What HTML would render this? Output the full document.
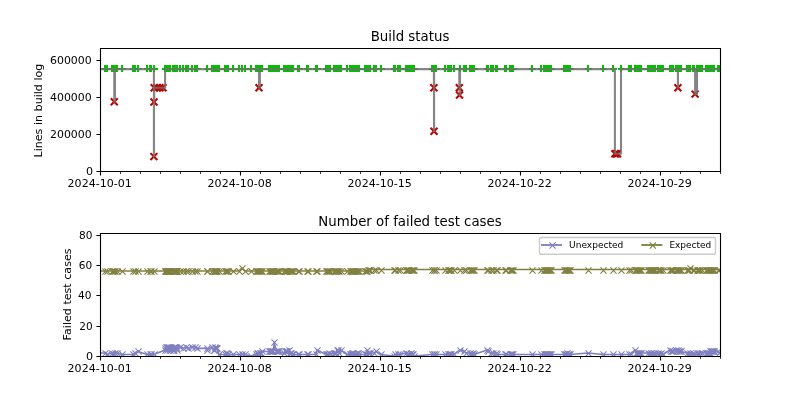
<!DOCTYPE html>
<html lang="en"><head><meta charset="utf-8"><title>Build status</title>
<style>html,body{margin:0;padding:0;background:#fff}body{width:800px;height:400px;overflow:hidden}svg{display:block;will-change:transform}text{font-family:'DejaVu Sans','Liberation Sans',sans-serif;fill:#000}</style></head><body>
<svg width="800" height="400" viewBox="0 0 800 400">
<rect width="800" height="400" fill="#fff"/>
<defs>
<clipPath id="c1"><rect x="100" y="48" width="620" height="123.2"/></clipPath>
<clipPath id="c2"><rect x="100" y="232.8" width="620" height="123.2"/></clipPath>
<path id="mp" d="M0 -3.5V3.5M-3 0.5H4" fill="none"/>
<path id="mx" d="M-3.47 -3.47 L3.47 3.47 M-3.47 3.47 L3.47 -3.47" fill="none"/>
<path id="mb" d="M-3.05 -3.05 L3.05 3.05 M-3.05 3.05 L3.05 -3.05" fill="none"/>
</defs>
<g clip-path="url(#c1)">
<g stroke="#00c000" stroke-width="2.08">
<use href="#mp" x="105" y="68.5"/>
<use href="#mp" x="107" y="68.5"/>
<use href="#mp" x="112" y="68.5"/>
<use href="#mp" x="113" y="68.5"/>
<use href="#mp" x="114" y="68.5"/>
<use href="#mp" x="115" y="68.5"/>
<use href="#mp" x="117" y="68.5"/>
<use href="#mp" x="122" y="68.5"/>
<use href="#mp" x="133" y="68.5"/>
<use href="#mp" x="135" y="68.5"/>
<use href="#mp" x="138" y="68.5"/>
<use href="#mp" x="147" y="68.5"/>
<use href="#mp" x="150" y="68.5"/>
<use href="#mp" x="151" y="68.5"/>
<use href="#mp" x="154" y="68.5"/>
<use href="#mp" x="165" y="68.5"/>
<use href="#mp" x="165" y="68.5"/>
<use href="#mp" x="166" y="68.5"/>
<use href="#mp" x="167" y="68.5"/>
<use href="#mp" x="167" y="68.5"/>
<use href="#mp" x="167" y="68.5"/>
<use href="#mp" x="168" y="68.5"/>
<use href="#mp" x="168" y="68.5"/>
<use href="#mp" x="169" y="68.5"/>
<use href="#mp" x="169" y="68.5"/>
<use href="#mp" x="170" y="68.5"/>
<use href="#mp" x="170" y="68.5"/>
<use href="#mp" x="173" y="68.5"/>
<use href="#mp" x="173" y="68.5"/>
<use href="#mp" x="173" y="68.5"/>
<use href="#mp" x="174" y="68.5"/>
<use href="#mp" x="174" y="68.5"/>
<use href="#mp" x="175" y="68.5"/>
<use href="#mp" x="176" y="68.5"/>
<use href="#mp" x="176" y="68.5"/>
<use href="#mp" x="176" y="68.5"/>
<use href="#mp" x="177" y="68.5"/>
<use href="#mp" x="180" y="68.5"/>
<use href="#mp" x="183" y="68.5"/>
<use href="#mp" x="186" y="68.5"/>
<use href="#mp" x="188" y="68.5"/>
<use href="#mp" x="192" y="68.5"/>
<use href="#mp" x="195" y="68.5"/>
<use href="#mp" x="197" y="68.5"/>
<use href="#mp" x="207" y="68.5"/>
<use href="#mp" x="207" y="68.5"/>
<use href="#mp" x="212" y="68.5"/>
<use href="#mp" x="214" y="68.5"/>
<use href="#mp" x="214" y="68.5"/>
<use href="#mp" x="215" y="68.5"/>
<use href="#mp" x="215" y="68.5"/>
<use href="#mp" x="216" y="68.5"/>
<use href="#mp" x="216" y="68.5"/>
<use href="#mp" x="217" y="68.5"/>
<use href="#mp" x="219" y="68.5"/>
<use href="#mp" x="225" y="68.5"/>
<use href="#mp" x="226" y="68.5"/>
<use href="#mp" x="227" y="68.5"/>
<use href="#mp" x="228" y="68.5"/>
<use href="#mp" x="233" y="68.5"/>
<use href="#mp" x="239" y="68.5"/>
<use href="#mp" x="242" y="68.5"/>
<use href="#mp" x="245" y="68.5"/>
<use href="#mp" x="251" y="68.5"/>
<use href="#mp" x="256" y="68.5"/>
<use href="#mp" x="257" y="68.5"/>
<use href="#mp" x="258" y="68.5"/>
<use href="#mp" x="259" y="68.5"/>
<use href="#mp" x="260" y="68.5"/>
<use href="#mp" x="261" y="68.5"/>
<use href="#mp" x="262" y="68.5"/>
<use href="#mp" x="269" y="68.5"/>
<use href="#mp" x="270" y="68.5"/>
<use href="#mp" x="271" y="68.5"/>
<use href="#mp" x="272" y="68.5"/>
<use href="#mp" x="272" y="68.5"/>
<use href="#mp" x="273" y="68.5"/>
<use href="#mp" x="274" y="68.5"/>
<use href="#mp" x="276" y="68.5"/>
<use href="#mp" x="277" y="68.5"/>
<use href="#mp" x="278" y="68.5"/>
<use href="#mp" x="279" y="68.5"/>
<use href="#mp" x="284" y="68.5"/>
<use href="#mp" x="285" y="68.5"/>
<use href="#mp" x="286" y="68.5"/>
<use href="#mp" x="286" y="68.5"/>
<use href="#mp" x="287" y="68.5"/>
<use href="#mp" x="289" y="68.5"/>
<use href="#mp" x="290" y="68.5"/>
<use href="#mp" x="291" y="68.5"/>
<use href="#mp" x="292" y="68.5"/>
<use href="#mp" x="293" y="68.5"/>
<use href="#mp" x="298" y="68.5"/>
<use href="#mp" x="299" y="68.5"/>
<use href="#mp" x="307" y="68.5"/>
<use href="#mp" x="308" y="68.5"/>
<use href="#mp" x="316" y="68.5"/>
<use href="#mp" x="317" y="68.5"/>
<use href="#mp" x="326" y="68.5"/>
<use href="#mp" x="327" y="68.5"/>
<use href="#mp" x="328" y="68.5"/>
<use href="#mp" x="329" y="68.5"/>
<use href="#mp" x="330" y="68.5"/>
<use href="#mp" x="334" y="68.5"/>
<use href="#mp" x="335" y="68.5"/>
<use href="#mp" x="336" y="68.5"/>
<use href="#mp" x="337" y="68.5"/>
<use href="#mp" x="338" y="68.5"/>
<use href="#mp" x="339" y="68.5"/>
<use href="#mp" x="341" y="68.5"/>
<use href="#mp" x="347" y="68.5"/>
<use href="#mp" x="350" y="68.5"/>
<use href="#mp" x="351" y="68.5"/>
<use href="#mp" x="352" y="68.5"/>
<use href="#mp" x="352" y="68.5"/>
<use href="#mp" x="353" y="68.5"/>
<use href="#mp" x="354" y="68.5"/>
<use href="#mp" x="355" y="68.5"/>
<use href="#mp" x="356" y="68.5"/>
<use href="#mp" x="357" y="68.5"/>
<use href="#mp" x="358" y="68.5"/>
<use href="#mp" x="359" y="68.5"/>
<use href="#mp" x="365" y="68.5"/>
<use href="#mp" x="366" y="68.5"/>
<use href="#mp" x="367" y="68.5"/>
<use href="#mp" x="368" y="68.5"/>
<use href="#mp" x="369" y="68.5"/>
<use href="#mp" x="370" y="68.5"/>
<use href="#mp" x="374" y="68.5"/>
<use href="#mp" x="376" y="68.5"/>
<use href="#mp" x="381" y="68.5"/>
<use href="#mp" x="394" y="68.5"/>
<use href="#mp" x="395" y="68.5"/>
<use href="#mp" x="398" y="68.5"/>
<use href="#mp" x="400" y="68.5"/>
<use href="#mp" x="406" y="68.5"/>
<use href="#mp" x="407" y="68.5"/>
<use href="#mp" x="408" y="68.5"/>
<use href="#mp" x="409" y="68.5"/>
<use href="#mp" x="411" y="68.5"/>
<use href="#mp" x="412" y="68.5"/>
<use href="#mp" x="413" y="68.5"/>
<use href="#mp" x="414" y="68.5"/>
<use href="#mp" x="432" y="68.5"/>
<use href="#mp" x="434" y="68.5"/>
<use href="#mp" x="434" y="68.5"/>
<use href="#mp" x="436" y="68.5"/>
<use href="#mp" x="445" y="68.5"/>
<use href="#mp" x="448" y="68.5"/>
<use href="#mp" x="449" y="68.5"/>
<use href="#mp" x="450" y="68.5"/>
<use href="#mp" x="451" y="68.5"/>
<use href="#mp" x="454" y="68.5"/>
<use href="#mp" x="460" y="68.5"/>
<use href="#mp" x="464" y="68.5"/>
<use href="#mp" x="466" y="68.5"/>
<use href="#mp" x="470" y="68.5"/>
<use href="#mp" x="471" y="68.5"/>
<use href="#mp" x="472" y="68.5"/>
<use href="#mp" x="473" y="68.5"/>
<use href="#mp" x="474" y="68.5"/>
<use href="#mp" x="487" y="68.5"/>
<use href="#mp" x="488" y="68.5"/>
<use href="#mp" x="491" y="68.5"/>
<use href="#mp" x="493" y="68.5"/>
<use href="#mp" x="496" y="68.5"/>
<use href="#mp" x="497" y="68.5"/>
<use href="#mp" x="505" y="68.5"/>
<use href="#mp" x="506" y="68.5"/>
<use href="#mp" x="510" y="68.5"/>
<use href="#mp" x="511" y="68.5"/>
<use href="#mp" x="512" y="68.5"/>
<use href="#mp" x="513" y="68.5"/>
<use href="#mp" x="532" y="68.5"/>
<use href="#mp" x="541" y="68.5"/>
<use href="#mp" x="544" y="68.5"/>
<use href="#mp" x="545" y="68.5"/>
<use href="#mp" x="546" y="68.5"/>
<use href="#mp" x="547" y="68.5"/>
<use href="#mp" x="547" y="68.5"/>
<use href="#mp" x="548" y="68.5"/>
<use href="#mp" x="549" y="68.5"/>
<use href="#mp" x="550" y="68.5"/>
<use href="#mp" x="551" y="68.5"/>
<use href="#mp" x="564" y="68.5"/>
<use href="#mp" x="565" y="68.5"/>
<use href="#mp" x="566" y="68.5"/>
<use href="#mp" x="567" y="68.5"/>
<use href="#mp" x="568" y="68.5"/>
<use href="#mp" x="569" y="68.5"/>
<use href="#mp" x="570" y="68.5"/>
<use href="#mp" x="588" y="68.5"/>
<use href="#mp" x="603" y="68.5"/>
<use href="#mp" x="613" y="68.5"/>
<use href="#mp" x="621" y="68.5"/>
<use href="#mp" x="629" y="68.5"/>
<use href="#mp" x="631" y="68.5"/>
<use href="#mp" x="635" y="68.5"/>
<use href="#mp" x="636" y="68.5"/>
<use href="#mp" x="637" y="68.5"/>
<use href="#mp" x="638" y="68.5"/>
<use href="#mp" x="639" y="68.5"/>
<use href="#mp" x="640" y="68.5"/>
<use href="#mp" x="641" y="68.5"/>
<use href="#mp" x="648" y="68.5"/>
<use href="#mp" x="649" y="68.5"/>
<use href="#mp" x="650" y="68.5"/>
<use href="#mp" x="651" y="68.5"/>
<use href="#mp" x="651" y="68.5"/>
<use href="#mp" x="652" y="68.5"/>
<use href="#mp" x="653" y="68.5"/>
<use href="#mp" x="654" y="68.5"/>
<use href="#mp" x="655" y="68.5"/>
<use href="#mp" x="658" y="68.5"/>
<use href="#mp" x="659" y="68.5"/>
<use href="#mp" x="660" y="68.5"/>
<use href="#mp" x="661" y="68.5"/>
<use href="#mp" x="663" y="68.5"/>
<use href="#mp" x="670" y="68.5"/>
<use href="#mp" x="671" y="68.5"/>
<use href="#mp" x="672" y="68.5"/>
<use href="#mp" x="673" y="68.5"/>
<use href="#mp" x="676" y="68.5"/>
<use href="#mp" x="677" y="68.5"/>
<use href="#mp" x="678" y="68.5"/>
<use href="#mp" x="679" y="68.5"/>
<use href="#mp" x="680" y="68.5"/>
<use href="#mp" x="681" y="68.5"/>
<use href="#mp" x="687" y="68.5"/>
<use href="#mp" x="688" y="68.5"/>
<use href="#mp" x="689" y="68.5"/>
<use href="#mp" x="690" y="68.5"/>
<use href="#mp" x="693" y="68.5"/>
<use href="#mp" x="694" y="68.5"/>
<use href="#mp" x="697" y="68.5"/>
<use href="#mp" x="698" y="68.5"/>
<use href="#mp" x="699" y="68.5"/>
<use href="#mp" x="700" y="68.5"/>
<use href="#mp" x="702" y="68.5"/>
<use href="#mp" x="706" y="68.5"/>
<use href="#mp" x="707" y="68.5"/>
<use href="#mp" x="708" y="68.5"/>
<use href="#mp" x="709" y="68.5"/>
<use href="#mp" x="710" y="68.5"/>
<use href="#mp" x="710" y="68.5"/>
<use href="#mp" x="711" y="68.5"/>
<use href="#mp" x="712" y="68.5"/>
<use href="#mp" x="713" y="68.5"/>
<use href="#mp" x="714" y="68.5"/>
<use href="#mp" x="718" y="68.5"/>
<use href="#mp" x="719" y="68.5"/>
<use href="#mp" x="721" y="68.5"/>
</g>
<g stroke="#c00000" stroke-width="2.08">
<use href="#mx" x="114.25" y="101.75"/>
<use href="#mx" x="153.9" y="156.6"/>
<use href="#mx" x="154" y="102"/>
<use href="#mx" x="154.2" y="87.8"/>
<use href="#mx" x="157" y="87.8"/>
<use href="#mx" x="160" y="87.8"/>
<use href="#mx" x="163" y="87.8"/>
<use href="#mx" x="259" y="87.8"/>
<use href="#mx" x="433.9" y="87.8"/>
<use href="#mx" x="434" y="131.3"/>
<use href="#mx" x="459.3" y="87.8"/>
<use href="#mx" x="459.5" y="95"/>
<use href="#mx" x="614.9" y="153.8"/>
<use href="#mx" x="616.2" y="153.8"/>
<use href="#mx" x="617.5" y="153.8"/>
<use href="#mx" x="677.9" y="87.8"/>
<use href="#mx" x="695.1" y="94.1"/>
</g>
<path d="M96 69.15H105.1H106.8H112.1H113.07H114.03H114.25V101.75H115V69.15H116.8H121.9H133H134.9H138.05H147H149.6H150.9H153.7H153.9V156.6H154V102H154.2V87.8H157H160H163H165.1V69.15H165.4H166H166.6H166.9H167.2H167.8H168.4H168.7H169H169.6H170.2H172.6H172.9H173.2H173.9H174.4H174.9H175.6H175.9H176.2H176.9H180H183H186H187.8H191.9H195.1H196.8H206.8H207.3H211.5H213.8H214.3H215H215.4H215.7H216.4H217.2H219H225.1H226.03H226.97H227.9H233H239.05H241.9H245H250.8H256.1H257.05H258H258.95H259V87.8H259.9V69.15H260.85H261.8H269.1H269.95H270.8H271.65H272.5H273.35H274.2H276.3H277.17H278.03H278.9H284H284.82H285.65H286.48H287.3H289.4H290.22H291.05H291.88H292.7H298H299.3H306.9H308H316H317H326H326.98H327.95H328.92H329.9H334H334.94H335.88H336.82H337.76H338.7H340.7H347H349.7H350.6H351.5H352.4H353.3H354.2H355.1H356H356.9H357.8H358.7H365.1H366H366.9H367.8H368.7H369.6H374.2H375.9H380.9H394.1H394.9H398H399.9H406.1H407.07H408.03H409H410.8H411.83H412.87H413.9H432.1H433.6H433.9V87.8H434V131.3H434.1V69.15H435.9H444.9H448H448.97H449.93H450.9H453.9H459.3V87.8H459.5V95H460V69.15H464H465.9H470.2H471.12H472.05H472.97H473.9H487.1H487.8H491.1H493H496.3H497H505.1H505.9H510.1H511.07H512.03H513H531.9H540.9H544H544.86H545.73H546.59H547.45H548.31H549.17H550.04H550.9H564H564.97H565.93H566.9H567.87H568.83H569.8H588H602.9H612.9H614.9V153.8H616.2H617.5H621V69.15H629H630.9H635H635.97H636.93H637.9H638.87H639.83H640.8H648H648.86H649.73H650.59H651.45H652.31H653.17H654.04H654.9H658H659H660H661H662.9H670H670.97H671.93H672.9H676H676.98H677.9V87.8H677.96V69.15H678.94H679.92H680.9H687.1H688.03H688.97H689.9H693.2H693.8H695.1V94.1H697V69.15H698H699H700H701.8H706H706.89H707.78H708.67H709.56H710.44H711.33H712.22H713.11H714H718H719.3H724" fill="none" stroke="#707070" stroke-opacity="0.85" stroke-width="2.08" stroke-linejoin="round" stroke-linecap="butt"/>
</g>
<path d="M100.5 171.5v4M240.5 171.5v4M380.5 171.5v4M520.5 171.5v4M660.5 171.5v4M100.5 171.5h-4.1M100.5 134.5h-4.1M100.5 97.5h-4.1M100.5 60.5h-4.1" stroke="#000" stroke-width="1.11" fill="none"/>
<path d="M120.5 171.5v2.4M140.5 171.5v2.4M160.5 171.5v2.4M180.5 171.5v2.4M200.5 171.5v2.4M220.5 171.5v2.4M260.5 171.5v2.4M280.5 171.5v2.4M300.5 171.5v2.4M320.5 171.5v2.4M340.5 171.5v2.4M360.5 171.5v2.4M400.5 171.5v2.4M420.5 171.5v2.4M440.5 171.5v2.4M460.5 171.5v2.4M480.5 171.5v2.4M500.5 171.5v2.4M540.5 171.5v2.4M560.5 171.5v2.4M580.5 171.5v2.4M600.5 171.5v2.4M620.5 171.5v2.4M640.5 171.5v2.4M680.5 171.5v2.4M700.5 171.5v2.4M720.5 171.5v2.4" stroke="#000" stroke-width="0.83" fill="none"/>
<path d="M100.5 48.5H720.5V171.5H100.5Z" stroke="#000" stroke-width="1.11" fill="none" stroke-linejoin="miter"/>
<text x="99.7" y="187" font-size="11.11" text-anchor="middle" textLength="64.2" lengthAdjust="spacingAndGlyphs">2024-10-01</text>
<text x="239.7" y="187" font-size="11.11" text-anchor="middle" textLength="64.2" lengthAdjust="spacingAndGlyphs">2024-10-08</text>
<text x="379.7" y="187" font-size="11.11" text-anchor="middle" textLength="64.2" lengthAdjust="spacingAndGlyphs">2024-10-15</text>
<text x="519.7" y="187" font-size="11.11" text-anchor="middle" textLength="64.2" lengthAdjust="spacingAndGlyphs">2024-10-22</text>
<text x="659.7" y="187" font-size="11.11" text-anchor="middle" textLength="64.2" lengthAdjust="spacingAndGlyphs">2024-10-29</text>
<text x="93.1" y="175" font-size="11.11" text-anchor="end">0</text>
<text x="91.7" y="138" font-size="11.11" text-anchor="end" textLength="41.7" lengthAdjust="spacingAndGlyphs">200000</text>
<text x="91.7" y="101" font-size="11.11" text-anchor="end" textLength="41.7" lengthAdjust="spacingAndGlyphs">400000</text>
<text x="91.7" y="64" font-size="11.11" text-anchor="end" textLength="41.7" lengthAdjust="spacingAndGlyphs">600000</text>
<text x="410" y="40.9" font-size="13.33" text-anchor="middle">Build status</text>
<text transform="translate(41.6 110.6) rotate(-90)" font-size="11.11" text-anchor="middle">Lines in build log</text>
<g clip-path="url(#c2)">
<path d="M96 352.97L105.1 352.97L106.8 354.48L112.1 352.97L113.07 354.48L114.03 354.48L115 352.97L116.8 352.97L121.9 354.48L133 354.48L134.9 352.97L138.05 351.45L147 354.48L149.6 354.48L150.9 354.48L153.7 354.48L165.1 349.93L165.4 348.41L166 346.9L166.6 348.41L166.9 346.9L167.2 349.93L167.8 348.41L168.4 346.9L168.7 348.41L169 346.9L169.6 349.93L170.2 348.41L172.6 349.93L172.9 348.41L173.2 349.93L173.9 346.9L174.4 349.93L174.9 346.9L175.6 346.9L175.9 348.41L176.2 348.41L176.9 349.93L180 346.9L183 348.41L186 346.9L187.8 348.41L191.9 346.9L195.1 346.9L196.8 348.41L206.8 348.41L207.3 349.93L211.5 346.9L213.8 349.93L214.3 349.93L215 348.41L215.4 346.9L215.7 348.41L216.4 348.41L217.2 348.41L219 354.48L225.1 354.48L226.03 352.97L226.97 352.97L227.9 354.48L233 354.48L239.05 354.48L241.9 354.48L245 354.48L250.8 356L256.1 354.48L257.05 352.97L258 352.97L258.95 354.48L259.9 352.97L260.85 352.97L261.8 351.45L269.1 351.45L269.95 351.45L270.8 351.45L271.65 351.45L272.5 351.45L273.35 351.45L274.2 342.34L276.3 351.45L277.17 351.45L278.03 351.45L278.9 351.45L284 352.97L284.82 351.45L285.65 351.45L286.48 351.45L287.3 351.45L289.4 349.93L290.22 352.97L291.05 352.97L291.88 354.48L292.7 354.48L298 354.48L299.3 354.48L306.9 354.48L308 354.48L316 354.48L317 349.93L326 354.48L326.98 354.48L327.95 354.48L328.92 352.97L329.9 354.48L334 352.97L334.94 352.97L335.88 352.97L336.82 349.93L337.76 349.93L338.7 352.97L340.7 349.93L347 354.48L349.7 354.48L350.6 354.48L351.5 354.48L352.4 352.97L353.3 352.97L354.2 354.48L355.1 354.48L356 354.48L356.9 352.97L357.8 352.97L358.7 354.48L365.1 354.48L366 354.48L366.9 349.93L367.8 352.97L368.7 352.97L369.6 352.97L374.2 352.97L375.9 351.45L380.9 354.48L394.1 356L394.9 354.48L398 354.48L399.9 354.48L406.1 352.97L407.07 354.48L408.03 354.48L409 354.48L410.8 352.97L411.83 354.48L412.87 354.48L413.9 356L432.1 354.48L433.6 354.48L434.1 354.48L435.9 354.48L444.9 354.48L448 354.48L448.97 354.48L449.93 354.48L450.9 354.48L453.9 354.48L460 349.93L464 351.45L465.9 352.97L470.2 352.97L471.12 354.48L472.05 354.48L472.97 352.97L473.9 354.48L487.1 349.93L487.8 351.45L491.1 352.97L493 352.97L496.3 352.97L497 354.48L505.1 354.48L505.9 354.48L510.1 354.48L511.07 354.48L512.03 354.48L513 354.48L531.9 354.48L540.9 354.48L544 354.48L544.86 354.48L545.73 354.48L546.59 354.48L547.45 354.48L548.31 354.48L549.17 354.48L550.04 354.48L550.9 354.48L564 354.48L564.97 354.48L565.93 354.48L566.9 352.97L567.87 354.48L568.83 354.48L569.8 354.48L588 352.97L602.9 354.48L612.9 354.48L621 354.48L629 354.48L630.9 354.48L635 349.93L635.97 352.97L636.93 352.97L637.9 352.97L638.87 352.97L639.83 352.97L640.8 352.97L648 352.97L648.86 354.48L649.73 354.48L650.59 352.97L651.45 352.97L652.31 354.48L653.17 354.48L654.04 352.97L654.9 354.48L658 352.97L659 354.48L660 354.48L661 352.97L662.9 354.48L670 349.93L670.97 351.45L671.93 351.45L672.9 351.45L676 349.93L676.98 351.45L677.96 349.93L678.94 351.45L679.92 351.45L680.9 351.45L687.1 352.97L688.03 354.48L688.97 354.48L689.9 352.97L693.2 352.97L693.8 354.48L697 352.97L698 354.48L699 354.48L700 352.97L701.8 352.97L706 352.97L706.89 352.97L707.78 352.97L708.67 352.97L709.56 352.97L710.44 351.45L711.33 351.45L712.22 351.45L713.11 351.45L714 351.45L718 351.45L719.3 352.97L724 352.97" fill="none" stroke="#8080c0" stroke-width="1.6" stroke-linejoin="round"/>
<g stroke="#8080c0" stroke-width="1.1">
<use href="#mb" x="105.5" y="353.5"/>
<use href="#mb" x="107.5" y="354.5"/>
<use href="#mb" x="112.5" y="353.5"/>
<use href="#mb" x="113.5" y="354.5"/>
<use href="#mb" x="114.5" y="354.5"/>
<use href="#mb" x="115.5" y="353.5"/>
<use href="#mb" x="117.5" y="353.5"/>
<use href="#mb" x="122.5" y="354.5"/>
<use href="#mb" x="133.5" y="354.5"/>
<use href="#mb" x="135.5" y="353.5"/>
<use href="#mb" x="138.5" y="351.5"/>
<use href="#mb" x="147.5" y="354.5"/>
<use href="#mb" x="150.5" y="354.5"/>
<use href="#mb" x="151.5" y="354.5"/>
<use href="#mb" x="154.5" y="354.5"/>
<use href="#mb" x="165.5" y="350.5"/>
<use href="#mb" x="165.5" y="348.5"/>
<use href="#mb" x="166.5" y="347.5"/>
<use href="#mb" x="167.5" y="348.5"/>
<use href="#mb" x="167.5" y="347.5"/>
<use href="#mb" x="167.5" y="350.5"/>
<use href="#mb" x="168.5" y="348.5"/>
<use href="#mb" x="168.5" y="347.5"/>
<use href="#mb" x="169.5" y="348.5"/>
<use href="#mb" x="169.5" y="347.5"/>
<use href="#mb" x="170.5" y="350.5"/>
<use href="#mb" x="170.5" y="348.5"/>
<use href="#mb" x="173.5" y="350.5"/>
<use href="#mb" x="173.5" y="348.5"/>
<use href="#mb" x="173.5" y="350.5"/>
<use href="#mb" x="174.5" y="347.5"/>
<use href="#mb" x="174.5" y="350.5"/>
<use href="#mb" x="175.5" y="347.5"/>
<use href="#mb" x="176.5" y="347.5"/>
<use href="#mb" x="176.5" y="348.5"/>
<use href="#mb" x="176.5" y="348.5"/>
<use href="#mb" x="177.5" y="350.5"/>
<use href="#mb" x="180.5" y="347.5"/>
<use href="#mb" x="183.5" y="348.5"/>
<use href="#mb" x="186.5" y="347.5"/>
<use href="#mb" x="188.5" y="348.5"/>
<use href="#mb" x="192.5" y="347.5"/>
<use href="#mb" x="195.5" y="347.5"/>
<use href="#mb" x="197.5" y="348.5"/>
<use href="#mb" x="207.5" y="348.5"/>
<use href="#mb" x="207.5" y="350.5"/>
<use href="#mb" x="212.5" y="347.5"/>
<use href="#mb" x="214.5" y="350.5"/>
<use href="#mb" x="214.5" y="350.5"/>
<use href="#mb" x="215.5" y="348.5"/>
<use href="#mb" x="215.5" y="347.5"/>
<use href="#mb" x="216.5" y="348.5"/>
<use href="#mb" x="216.5" y="348.5"/>
<use href="#mb" x="217.5" y="348.5"/>
<use href="#mb" x="219.5" y="354.5"/>
<use href="#mb" x="225.5" y="354.5"/>
<use href="#mb" x="226.5" y="353.5"/>
<use href="#mb" x="227.5" y="353.5"/>
<use href="#mb" x="228.5" y="354.5"/>
<use href="#mb" x="233.5" y="354.5"/>
<use href="#mb" x="239.5" y="354.5"/>
<use href="#mb" x="242.5" y="354.5"/>
<use href="#mb" x="245.5" y="354.5"/>
<use href="#mb" x="251.5" y="356.5"/>
<use href="#mb" x="256.5" y="354.5"/>
<use href="#mb" x="257.5" y="353.5"/>
<use href="#mb" x="258.5" y="353.5"/>
<use href="#mb" x="259.5" y="354.5"/>
<use href="#mb" x="260.5" y="353.5"/>
<use href="#mb" x="261.5" y="353.5"/>
<use href="#mb" x="262.5" y="351.5"/>
<use href="#mb" x="269.5" y="351.5"/>
<use href="#mb" x="270.5" y="351.5"/>
<use href="#mb" x="271.5" y="351.5"/>
<use href="#mb" x="272.5" y="351.5"/>
<use href="#mb" x="272.5" y="351.5"/>
<use href="#mb" x="273.5" y="351.5"/>
<use href="#mb" x="274.5" y="342.5"/>
<use href="#mb" x="276.5" y="351.5"/>
<use href="#mb" x="277.5" y="351.5"/>
<use href="#mb" x="278.5" y="351.5"/>
<use href="#mb" x="279.5" y="351.5"/>
<use href="#mb" x="284.5" y="353.5"/>
<use href="#mb" x="285.5" y="351.5"/>
<use href="#mb" x="286.5" y="351.5"/>
<use href="#mb" x="286.5" y="351.5"/>
<use href="#mb" x="287.5" y="351.5"/>
<use href="#mb" x="289.5" y="350.5"/>
<use href="#mb" x="290.5" y="353.5"/>
<use href="#mb" x="291.5" y="353.5"/>
<use href="#mb" x="292.5" y="354.5"/>
<use href="#mb" x="293.5" y="354.5"/>
<use href="#mb" x="298.5" y="354.5"/>
<use href="#mb" x="299.5" y="354.5"/>
<use href="#mb" x="307.5" y="354.5"/>
<use href="#mb" x="308.5" y="354.5"/>
<use href="#mb" x="316.5" y="354.5"/>
<use href="#mb" x="317.5" y="350.5"/>
<use href="#mb" x="326.5" y="354.5"/>
<use href="#mb" x="327.5" y="354.5"/>
<use href="#mb" x="328.5" y="354.5"/>
<use href="#mb" x="329.5" y="353.5"/>
<use href="#mb" x="330.5" y="354.5"/>
<use href="#mb" x="334.5" y="353.5"/>
<use href="#mb" x="335.5" y="353.5"/>
<use href="#mb" x="336.5" y="353.5"/>
<use href="#mb" x="337.5" y="350.5"/>
<use href="#mb" x="338.5" y="350.5"/>
<use href="#mb" x="339.5" y="353.5"/>
<use href="#mb" x="341.5" y="350.5"/>
<use href="#mb" x="347.5" y="354.5"/>
<use href="#mb" x="350.5" y="354.5"/>
<use href="#mb" x="351.5" y="354.5"/>
<use href="#mb" x="352.5" y="354.5"/>
<use href="#mb" x="352.5" y="353.5"/>
<use href="#mb" x="353.5" y="353.5"/>
<use href="#mb" x="354.5" y="354.5"/>
<use href="#mb" x="355.5" y="354.5"/>
<use href="#mb" x="356.5" y="354.5"/>
<use href="#mb" x="357.5" y="353.5"/>
<use href="#mb" x="358.5" y="353.5"/>
<use href="#mb" x="359.5" y="354.5"/>
<use href="#mb" x="365.5" y="354.5"/>
<use href="#mb" x="366.5" y="354.5"/>
<use href="#mb" x="367.5" y="350.5"/>
<use href="#mb" x="368.5" y="353.5"/>
<use href="#mb" x="369.5" y="353.5"/>
<use href="#mb" x="370.5" y="353.5"/>
<use href="#mb" x="374.5" y="353.5"/>
<use href="#mb" x="376.5" y="351.5"/>
<use href="#mb" x="381.5" y="354.5"/>
<use href="#mb" x="394.5" y="356.5"/>
<use href="#mb" x="395.5" y="354.5"/>
<use href="#mb" x="398.5" y="354.5"/>
<use href="#mb" x="400.5" y="354.5"/>
<use href="#mb" x="406.5" y="353.5"/>
<use href="#mb" x="407.5" y="354.5"/>
<use href="#mb" x="408.5" y="354.5"/>
<use href="#mb" x="409.5" y="354.5"/>
<use href="#mb" x="411.5" y="353.5"/>
<use href="#mb" x="412.5" y="354.5"/>
<use href="#mb" x="413.5" y="354.5"/>
<use href="#mb" x="414.5" y="356.5"/>
<use href="#mb" x="432.5" y="354.5"/>
<use href="#mb" x="434.5" y="354.5"/>
<use href="#mb" x="434.5" y="354.5"/>
<use href="#mb" x="436.5" y="354.5"/>
<use href="#mb" x="445.5" y="354.5"/>
<use href="#mb" x="448.5" y="354.5"/>
<use href="#mb" x="449.5" y="354.5"/>
<use href="#mb" x="450.5" y="354.5"/>
<use href="#mb" x="451.5" y="354.5"/>
<use href="#mb" x="454.5" y="354.5"/>
<use href="#mb" x="460.5" y="350.5"/>
<use href="#mb" x="464.5" y="351.5"/>
<use href="#mb" x="466.5" y="353.5"/>
<use href="#mb" x="470.5" y="353.5"/>
<use href="#mb" x="471.5" y="354.5"/>
<use href="#mb" x="472.5" y="354.5"/>
<use href="#mb" x="473.5" y="353.5"/>
<use href="#mb" x="474.5" y="354.5"/>
<use href="#mb" x="487.5" y="350.5"/>
<use href="#mb" x="488.5" y="351.5"/>
<use href="#mb" x="491.5" y="353.5"/>
<use href="#mb" x="493.5" y="353.5"/>
<use href="#mb" x="496.5" y="353.5"/>
<use href="#mb" x="497.5" y="354.5"/>
<use href="#mb" x="505.5" y="354.5"/>
<use href="#mb" x="506.5" y="354.5"/>
<use href="#mb" x="510.5" y="354.5"/>
<use href="#mb" x="511.5" y="354.5"/>
<use href="#mb" x="512.5" y="354.5"/>
<use href="#mb" x="513.5" y="354.5"/>
<use href="#mb" x="532.5" y="354.5"/>
<use href="#mb" x="541.5" y="354.5"/>
<use href="#mb" x="544.5" y="354.5"/>
<use href="#mb" x="545.5" y="354.5"/>
<use href="#mb" x="546.5" y="354.5"/>
<use href="#mb" x="547.5" y="354.5"/>
<use href="#mb" x="547.5" y="354.5"/>
<use href="#mb" x="548.5" y="354.5"/>
<use href="#mb" x="549.5" y="354.5"/>
<use href="#mb" x="550.5" y="354.5"/>
<use href="#mb" x="551.5" y="354.5"/>
<use href="#mb" x="564.5" y="354.5"/>
<use href="#mb" x="565.5" y="354.5"/>
<use href="#mb" x="566.5" y="354.5"/>
<use href="#mb" x="567.5" y="353.5"/>
<use href="#mb" x="568.5" y="354.5"/>
<use href="#mb" x="569.5" y="354.5"/>
<use href="#mb" x="570.5" y="354.5"/>
<use href="#mb" x="588.5" y="353.5"/>
<use href="#mb" x="603.5" y="354.5"/>
<use href="#mb" x="613.5" y="354.5"/>
<use href="#mb" x="621.5" y="354.5"/>
<use href="#mb" x="629.5" y="354.5"/>
<use href="#mb" x="631.5" y="354.5"/>
<use href="#mb" x="635.5" y="350.5"/>
<use href="#mb" x="636.5" y="353.5"/>
<use href="#mb" x="637.5" y="353.5"/>
<use href="#mb" x="638.5" y="353.5"/>
<use href="#mb" x="639.5" y="353.5"/>
<use href="#mb" x="640.5" y="353.5"/>
<use href="#mb" x="641.5" y="353.5"/>
<use href="#mb" x="648.5" y="353.5"/>
<use href="#mb" x="649.5" y="354.5"/>
<use href="#mb" x="650.5" y="354.5"/>
<use href="#mb" x="651.5" y="353.5"/>
<use href="#mb" x="651.5" y="353.5"/>
<use href="#mb" x="652.5" y="354.5"/>
<use href="#mb" x="653.5" y="354.5"/>
<use href="#mb" x="654.5" y="353.5"/>
<use href="#mb" x="655.5" y="354.5"/>
<use href="#mb" x="658.5" y="353.5"/>
<use href="#mb" x="659.5" y="354.5"/>
<use href="#mb" x="660.5" y="354.5"/>
<use href="#mb" x="661.5" y="353.5"/>
<use href="#mb" x="663.5" y="354.5"/>
<use href="#mb" x="670.5" y="350.5"/>
<use href="#mb" x="671.5" y="351.5"/>
<use href="#mb" x="672.5" y="351.5"/>
<use href="#mb" x="673.5" y="351.5"/>
<use href="#mb" x="676.5" y="350.5"/>
<use href="#mb" x="677.5" y="351.5"/>
<use href="#mb" x="678.5" y="350.5"/>
<use href="#mb" x="679.5" y="351.5"/>
<use href="#mb" x="680.5" y="351.5"/>
<use href="#mb" x="681.5" y="351.5"/>
<use href="#mb" x="687.5" y="353.5"/>
<use href="#mb" x="688.5" y="354.5"/>
<use href="#mb" x="689.5" y="354.5"/>
<use href="#mb" x="690.5" y="353.5"/>
<use href="#mb" x="693.5" y="353.5"/>
<use href="#mb" x="694.5" y="354.5"/>
<use href="#mb" x="697.5" y="353.5"/>
<use href="#mb" x="698.5" y="354.5"/>
<use href="#mb" x="699.5" y="354.5"/>
<use href="#mb" x="700.5" y="353.5"/>
<use href="#mb" x="702.5" y="353.5"/>
<use href="#mb" x="706.5" y="353.5"/>
<use href="#mb" x="707.5" y="353.5"/>
<use href="#mb" x="708.5" y="353.5"/>
<use href="#mb" x="709.5" y="353.5"/>
<use href="#mb" x="710.5" y="353.5"/>
<use href="#mb" x="710.5" y="351.5"/>
<use href="#mb" x="711.5" y="351.5"/>
<use href="#mb" x="712.5" y="351.5"/>
<use href="#mb" x="713.5" y="351.5"/>
<use href="#mb" x="714.5" y="351.5"/>
<use href="#mb" x="718.5" y="351.5"/>
<use href="#mb" x="719.5" y="353.5"/>
<use href="#mb" x="724.5" y="353.5"/>
</g>
<path d="M96 271.03L105.1 271.03L106.8 271.03L112.1 271.03L113.07 271.03L114.03 271.03L115 271.03L116.8 271.03L121.9 271.03L133 271.03L134.9 271.03L138.05 271.03L147 271.03L149.6 271.03L150.9 271.03L153.7 271.03L165.1 271.03L165.4 271.03L166 271.03L166.6 271.03L166.9 271.03L167.2 271.03L167.8 271.03L168.4 271.03L168.7 271.03L169 271.03L169.6 271.03L170.2 271.03L172.6 271.03L172.9 271.03L173.2 271.03L173.9 271.03L174.4 271.03L174.9 271.03L175.6 271.03L175.9 271.03L176.2 271.03L176.9 271.03L180 271.03L183 271.03L186 271.03L187.8 271.03L191.9 271.03L195.1 271.03L196.8 271.03L206.8 271.03L207.3 271.03L211.5 271.03L213.8 271.03L214.3 271.03L215 271.03L215.4 271.03L215.7 271.03L216.4 271.03L217.2 271.03L219 271.03L225.1 271.03L226.03 271.03L226.97 271.03L227.9 271.03L233 271.03L239.05 271.03L241.9 268L245 271.03L250.8 271.03L256.1 271.03L257.05 271.03L258 271.03L258.95 271.03L259.9 271.03L260.85 271.03L261.8 271.03L269.1 271.03L269.95 271.03L270.8 271.03L271.65 271.03L272.5 271.03L273.35 271.03L274.2 271.03L276.3 271.03L277.17 271.03L278.03 271.03L278.9 271.03L284 271.03L284.82 271.03L285.65 271.03L286.48 271.03L287.3 271.03L289.4 271.03L290.22 271.03L291.05 271.03L291.88 271.03L292.7 271.03L298 271.03L299.3 271.03L306.9 271.03L308 271.03L316 271.03L317 271.03L326 271.03L326.98 271.03L327.95 271.03L328.92 271.03L329.9 271.03L334 271.03L334.94 271.03L335.88 271.03L336.82 271.03L337.76 271.03L338.7 271.03L340.7 271.03L347 271.03L349.7 271.03L350.6 271.03L351.5 271.03L352.4 271.03L353.3 271.03L354.2 271.03L355.1 271.03L356 271.03L356.9 271.03L357.8 271.03L358.7 271.03L365.1 271.03L366 271.03L366.9 271.03L367.8 269.52L368.7 269.52L369.6 269.52L374.2 269.52L375.9 269.52L380.9 269.52L394.1 269.52L394.9 269.52L398 269.52L399.9 269.52L406.1 269.52L407.07 269.52L408.03 269.52L409 269.52L410.8 269.52L411.83 269.52L412.87 269.52L413.9 269.52L432.1 269.52L433.6 269.52L434.1 269.52L435.9 269.52L444.9 269.52L448 269.52L448.97 269.52L449.93 269.52L450.9 269.52L453.9 269.52L460 269.52L464 269.52L465.9 269.52L470.2 269.52L471.12 269.52L472.05 269.52L472.97 269.52L473.9 269.52L487.1 269.52L487.8 269.52L491.1 269.52L493 269.52L496.3 269.52L497 269.52L505.1 269.52L505.9 269.52L510.1 269.52L511.07 269.52L512.03 269.52L513 269.52L531.9 269.52L540.9 269.52L544 269.52L544.86 269.52L545.73 269.52L546.59 269.52L547.45 269.52L548.31 269.52L549.17 269.52L550.04 269.52L550.9 269.52L564 269.52L564.97 269.52L565.93 269.52L566.9 269.52L567.87 269.52L568.83 269.52L569.8 269.52L588 269.52L602.9 269.52L612.9 269.52L621 269.52L629 269.52L630.9 269.52L635 269.52L635.97 269.52L636.93 269.52L637.9 269.52L638.87 269.52L639.83 269.52L640.8 269.52L648 269.52L648.86 269.52L649.73 269.52L650.59 269.52L651.45 269.52L652.31 269.52L653.17 269.52L654.04 269.52L654.9 269.52L658 269.52L659 269.52L660 269.52L661 269.52L662.9 269.52L670 269.52L670.97 269.52L671.93 269.52L672.9 269.52L676 269.52L676.98 269.52L677.96 269.52L678.94 269.52L679.92 269.52L680.9 269.52L687.1 269.52L688.03 269.52L688.97 269.52L689.9 268L693.2 269.52L693.8 269.52L697 269.52L698 269.52L699 269.52L700 269.52L701.8 269.52L706 269.52L706.89 269.52L707.78 269.52L708.67 269.52L709.56 269.52L710.44 269.52L711.33 269.52L712.22 269.52L713.11 269.52L714 269.52L718 269.52L719.3 269.52L724 269.52" fill="none" stroke="#808040" stroke-width="1.6" stroke-linejoin="round"/>
<g stroke="#808040" stroke-width="1.1">
<use href="#mb" x="105.5" y="271.5"/>
<use href="#mb" x="107.5" y="271.5"/>
<use href="#mb" x="112.5" y="271.5"/>
<use href="#mb" x="113.5" y="271.5"/>
<use href="#mb" x="114.5" y="271.5"/>
<use href="#mb" x="115.5" y="271.5"/>
<use href="#mb" x="117.5" y="271.5"/>
<use href="#mb" x="122.5" y="271.5"/>
<use href="#mb" x="133.5" y="271.5"/>
<use href="#mb" x="135.5" y="271.5"/>
<use href="#mb" x="138.5" y="271.5"/>
<use href="#mb" x="147.5" y="271.5"/>
<use href="#mb" x="150.5" y="271.5"/>
<use href="#mb" x="151.5" y="271.5"/>
<use href="#mb" x="154.5" y="271.5"/>
<use href="#mb" x="165.5" y="271.5"/>
<use href="#mb" x="165.5" y="271.5"/>
<use href="#mb" x="166.5" y="271.5"/>
<use href="#mb" x="167.5" y="271.5"/>
<use href="#mb" x="167.5" y="271.5"/>
<use href="#mb" x="167.5" y="271.5"/>
<use href="#mb" x="168.5" y="271.5"/>
<use href="#mb" x="168.5" y="271.5"/>
<use href="#mb" x="169.5" y="271.5"/>
<use href="#mb" x="169.5" y="271.5"/>
<use href="#mb" x="170.5" y="271.5"/>
<use href="#mb" x="170.5" y="271.5"/>
<use href="#mb" x="173.5" y="271.5"/>
<use href="#mb" x="173.5" y="271.5"/>
<use href="#mb" x="173.5" y="271.5"/>
<use href="#mb" x="174.5" y="271.5"/>
<use href="#mb" x="174.5" y="271.5"/>
<use href="#mb" x="175.5" y="271.5"/>
<use href="#mb" x="176.5" y="271.5"/>
<use href="#mb" x="176.5" y="271.5"/>
<use href="#mb" x="176.5" y="271.5"/>
<use href="#mb" x="177.5" y="271.5"/>
<use href="#mb" x="180.5" y="271.5"/>
<use href="#mb" x="183.5" y="271.5"/>
<use href="#mb" x="186.5" y="271.5"/>
<use href="#mb" x="188.5" y="271.5"/>
<use href="#mb" x="192.5" y="271.5"/>
<use href="#mb" x="195.5" y="271.5"/>
<use href="#mb" x="197.5" y="271.5"/>
<use href="#mb" x="207.5" y="271.5"/>
<use href="#mb" x="207.5" y="271.5"/>
<use href="#mb" x="212.5" y="271.5"/>
<use href="#mb" x="214.5" y="271.5"/>
<use href="#mb" x="214.5" y="271.5"/>
<use href="#mb" x="215.5" y="271.5"/>
<use href="#mb" x="215.5" y="271.5"/>
<use href="#mb" x="216.5" y="271.5"/>
<use href="#mb" x="216.5" y="271.5"/>
<use href="#mb" x="217.5" y="271.5"/>
<use href="#mb" x="219.5" y="271.5"/>
<use href="#mb" x="225.5" y="271.5"/>
<use href="#mb" x="226.5" y="271.5"/>
<use href="#mb" x="227.5" y="271.5"/>
<use href="#mb" x="228.5" y="271.5"/>
<use href="#mb" x="233.5" y="271.5"/>
<use href="#mb" x="239.5" y="271.5"/>
<use href="#mb" x="242.5" y="268.5"/>
<use href="#mb" x="245.5" y="271.5"/>
<use href="#mb" x="251.5" y="271.5"/>
<use href="#mb" x="256.5" y="271.5"/>
<use href="#mb" x="257.5" y="271.5"/>
<use href="#mb" x="258.5" y="271.5"/>
<use href="#mb" x="259.5" y="271.5"/>
<use href="#mb" x="260.5" y="271.5"/>
<use href="#mb" x="261.5" y="271.5"/>
<use href="#mb" x="262.5" y="271.5"/>
<use href="#mb" x="269.5" y="271.5"/>
<use href="#mb" x="270.5" y="271.5"/>
<use href="#mb" x="271.5" y="271.5"/>
<use href="#mb" x="272.5" y="271.5"/>
<use href="#mb" x="272.5" y="271.5"/>
<use href="#mb" x="273.5" y="271.5"/>
<use href="#mb" x="274.5" y="271.5"/>
<use href="#mb" x="276.5" y="271.5"/>
<use href="#mb" x="277.5" y="271.5"/>
<use href="#mb" x="278.5" y="271.5"/>
<use href="#mb" x="279.5" y="271.5"/>
<use href="#mb" x="284.5" y="271.5"/>
<use href="#mb" x="285.5" y="271.5"/>
<use href="#mb" x="286.5" y="271.5"/>
<use href="#mb" x="286.5" y="271.5"/>
<use href="#mb" x="287.5" y="271.5"/>
<use href="#mb" x="289.5" y="271.5"/>
<use href="#mb" x="290.5" y="271.5"/>
<use href="#mb" x="291.5" y="271.5"/>
<use href="#mb" x="292.5" y="271.5"/>
<use href="#mb" x="293.5" y="271.5"/>
<use href="#mb" x="298.5" y="271.5"/>
<use href="#mb" x="299.5" y="271.5"/>
<use href="#mb" x="307.5" y="271.5"/>
<use href="#mb" x="308.5" y="271.5"/>
<use href="#mb" x="316.5" y="271.5"/>
<use href="#mb" x="317.5" y="271.5"/>
<use href="#mb" x="326.5" y="271.5"/>
<use href="#mb" x="327.5" y="271.5"/>
<use href="#mb" x="328.5" y="271.5"/>
<use href="#mb" x="329.5" y="271.5"/>
<use href="#mb" x="330.5" y="271.5"/>
<use href="#mb" x="334.5" y="271.5"/>
<use href="#mb" x="335.5" y="271.5"/>
<use href="#mb" x="336.5" y="271.5"/>
<use href="#mb" x="337.5" y="271.5"/>
<use href="#mb" x="338.5" y="271.5"/>
<use href="#mb" x="339.5" y="271.5"/>
<use href="#mb" x="341.5" y="271.5"/>
<use href="#mb" x="347.5" y="271.5"/>
<use href="#mb" x="350.5" y="271.5"/>
<use href="#mb" x="351.5" y="271.5"/>
<use href="#mb" x="352.5" y="271.5"/>
<use href="#mb" x="352.5" y="271.5"/>
<use href="#mb" x="353.5" y="271.5"/>
<use href="#mb" x="354.5" y="271.5"/>
<use href="#mb" x="355.5" y="271.5"/>
<use href="#mb" x="356.5" y="271.5"/>
<use href="#mb" x="357.5" y="271.5"/>
<use href="#mb" x="358.5" y="271.5"/>
<use href="#mb" x="359.5" y="271.5"/>
<use href="#mb" x="365.5" y="271.5"/>
<use href="#mb" x="366.5" y="271.5"/>
<use href="#mb" x="367.5" y="271.5"/>
<use href="#mb" x="368.5" y="270.5"/>
<use href="#mb" x="369.5" y="270.5"/>
<use href="#mb" x="370.5" y="270.5"/>
<use href="#mb" x="374.5" y="270.5"/>
<use href="#mb" x="376.5" y="270.5"/>
<use href="#mb" x="381.5" y="270.5"/>
<use href="#mb" x="394.5" y="270.5"/>
<use href="#mb" x="395.5" y="270.5"/>
<use href="#mb" x="398.5" y="270.5"/>
<use href="#mb" x="400.5" y="270.5"/>
<use href="#mb" x="406.5" y="270.5"/>
<use href="#mb" x="407.5" y="270.5"/>
<use href="#mb" x="408.5" y="270.5"/>
<use href="#mb" x="409.5" y="270.5"/>
<use href="#mb" x="411.5" y="270.5"/>
<use href="#mb" x="412.5" y="270.5"/>
<use href="#mb" x="413.5" y="270.5"/>
<use href="#mb" x="414.5" y="270.5"/>
<use href="#mb" x="432.5" y="270.5"/>
<use href="#mb" x="434.5" y="270.5"/>
<use href="#mb" x="434.5" y="270.5"/>
<use href="#mb" x="436.5" y="270.5"/>
<use href="#mb" x="445.5" y="270.5"/>
<use href="#mb" x="448.5" y="270.5"/>
<use href="#mb" x="449.5" y="270.5"/>
<use href="#mb" x="450.5" y="270.5"/>
<use href="#mb" x="451.5" y="270.5"/>
<use href="#mb" x="454.5" y="270.5"/>
<use href="#mb" x="460.5" y="270.5"/>
<use href="#mb" x="464.5" y="270.5"/>
<use href="#mb" x="466.5" y="270.5"/>
<use href="#mb" x="470.5" y="270.5"/>
<use href="#mb" x="471.5" y="270.5"/>
<use href="#mb" x="472.5" y="270.5"/>
<use href="#mb" x="473.5" y="270.5"/>
<use href="#mb" x="474.5" y="270.5"/>
<use href="#mb" x="487.5" y="270.5"/>
<use href="#mb" x="488.5" y="270.5"/>
<use href="#mb" x="491.5" y="270.5"/>
<use href="#mb" x="493.5" y="270.5"/>
<use href="#mb" x="496.5" y="270.5"/>
<use href="#mb" x="497.5" y="270.5"/>
<use href="#mb" x="505.5" y="270.5"/>
<use href="#mb" x="506.5" y="270.5"/>
<use href="#mb" x="510.5" y="270.5"/>
<use href="#mb" x="511.5" y="270.5"/>
<use href="#mb" x="512.5" y="270.5"/>
<use href="#mb" x="513.5" y="270.5"/>
<use href="#mb" x="532.5" y="270.5"/>
<use href="#mb" x="541.5" y="270.5"/>
<use href="#mb" x="544.5" y="270.5"/>
<use href="#mb" x="545.5" y="270.5"/>
<use href="#mb" x="546.5" y="270.5"/>
<use href="#mb" x="547.5" y="270.5"/>
<use href="#mb" x="547.5" y="270.5"/>
<use href="#mb" x="548.5" y="270.5"/>
<use href="#mb" x="549.5" y="270.5"/>
<use href="#mb" x="550.5" y="270.5"/>
<use href="#mb" x="551.5" y="270.5"/>
<use href="#mb" x="564.5" y="270.5"/>
<use href="#mb" x="565.5" y="270.5"/>
<use href="#mb" x="566.5" y="270.5"/>
<use href="#mb" x="567.5" y="270.5"/>
<use href="#mb" x="568.5" y="270.5"/>
<use href="#mb" x="569.5" y="270.5"/>
<use href="#mb" x="570.5" y="270.5"/>
<use href="#mb" x="588.5" y="270.5"/>
<use href="#mb" x="603.5" y="270.5"/>
<use href="#mb" x="613.5" y="270.5"/>
<use href="#mb" x="621.5" y="270.5"/>
<use href="#mb" x="629.5" y="270.5"/>
<use href="#mb" x="631.5" y="270.5"/>
<use href="#mb" x="635.5" y="270.5"/>
<use href="#mb" x="636.5" y="270.5"/>
<use href="#mb" x="637.5" y="270.5"/>
<use href="#mb" x="638.5" y="270.5"/>
<use href="#mb" x="639.5" y="270.5"/>
<use href="#mb" x="640.5" y="270.5"/>
<use href="#mb" x="641.5" y="270.5"/>
<use href="#mb" x="648.5" y="270.5"/>
<use href="#mb" x="649.5" y="270.5"/>
<use href="#mb" x="650.5" y="270.5"/>
<use href="#mb" x="651.5" y="270.5"/>
<use href="#mb" x="651.5" y="270.5"/>
<use href="#mb" x="652.5" y="270.5"/>
<use href="#mb" x="653.5" y="270.5"/>
<use href="#mb" x="654.5" y="270.5"/>
<use href="#mb" x="655.5" y="270.5"/>
<use href="#mb" x="658.5" y="270.5"/>
<use href="#mb" x="659.5" y="270.5"/>
<use href="#mb" x="660.5" y="270.5"/>
<use href="#mb" x="661.5" y="270.5"/>
<use href="#mb" x="663.5" y="270.5"/>
<use href="#mb" x="670.5" y="270.5"/>
<use href="#mb" x="671.5" y="270.5"/>
<use href="#mb" x="672.5" y="270.5"/>
<use href="#mb" x="673.5" y="270.5"/>
<use href="#mb" x="676.5" y="270.5"/>
<use href="#mb" x="677.5" y="270.5"/>
<use href="#mb" x="678.5" y="270.5"/>
<use href="#mb" x="679.5" y="270.5"/>
<use href="#mb" x="680.5" y="270.5"/>
<use href="#mb" x="681.5" y="270.5"/>
<use href="#mb" x="687.5" y="270.5"/>
<use href="#mb" x="688.5" y="270.5"/>
<use href="#mb" x="689.5" y="270.5"/>
<use href="#mb" x="690.5" y="268.5"/>
<use href="#mb" x="693.5" y="270.5"/>
<use href="#mb" x="694.5" y="270.5"/>
<use href="#mb" x="697.5" y="270.5"/>
<use href="#mb" x="698.5" y="270.5"/>
<use href="#mb" x="699.5" y="270.5"/>
<use href="#mb" x="700.5" y="270.5"/>
<use href="#mb" x="702.5" y="270.5"/>
<use href="#mb" x="706.5" y="270.5"/>
<use href="#mb" x="707.5" y="270.5"/>
<use href="#mb" x="708.5" y="270.5"/>
<use href="#mb" x="709.5" y="270.5"/>
<use href="#mb" x="710.5" y="270.5"/>
<use href="#mb" x="710.5" y="270.5"/>
<use href="#mb" x="711.5" y="270.5"/>
<use href="#mb" x="712.5" y="270.5"/>
<use href="#mb" x="713.5" y="270.5"/>
<use href="#mb" x="714.5" y="270.5"/>
<use href="#mb" x="718.5" y="270.5"/>
<use href="#mb" x="719.5" y="270.5"/>
<use href="#mb" x="724.5" y="270.5"/>
</g>
</g>
<path d="M100.5 356.5v4M240.5 356.5v4M380.5 356.5v4M520.5 356.5v4M660.5 356.5v4M100.5 356.5h-4.1M100.5 326.5h-4.1M100.5 295.5h-4.1M100.5 265.5h-4.1M100.5 235.5h-4.1" stroke="#000" stroke-width="1.11" fill="none"/>
<path d="M120.5 356.5v2.4M140.5 356.5v2.4M160.5 356.5v2.4M180.5 356.5v2.4M200.5 356.5v2.4M220.5 356.5v2.4M260.5 356.5v2.4M280.5 356.5v2.4M300.5 356.5v2.4M320.5 356.5v2.4M340.5 356.5v2.4M360.5 356.5v2.4M400.5 356.5v2.4M420.5 356.5v2.4M440.5 356.5v2.4M460.5 356.5v2.4M480.5 356.5v2.4M500.5 356.5v2.4M540.5 356.5v2.4M560.5 356.5v2.4M580.5 356.5v2.4M600.5 356.5v2.4M620.5 356.5v2.4M640.5 356.5v2.4M680.5 356.5v2.4M700.5 356.5v2.4M720.5 356.5v2.4" stroke="#000" stroke-width="0.83" fill="none"/>
<path d="M100.5 233.5H720.5V356.5H100.5Z" stroke="#000" stroke-width="1.11" fill="none" stroke-linejoin="miter"/>
<text x="99.7" y="371.8" font-size="11.11" text-anchor="middle" textLength="64.2" lengthAdjust="spacingAndGlyphs">2024-10-01</text>
<text x="239.7" y="371.8" font-size="11.11" text-anchor="middle" textLength="64.2" lengthAdjust="spacingAndGlyphs">2024-10-08</text>
<text x="379.7" y="371.8" font-size="11.11" text-anchor="middle" textLength="64.2" lengthAdjust="spacingAndGlyphs">2024-10-15</text>
<text x="519.7" y="371.8" font-size="11.11" text-anchor="middle" textLength="64.2" lengthAdjust="spacingAndGlyphs">2024-10-22</text>
<text x="659.7" y="371.8" font-size="11.11" text-anchor="middle" textLength="64.2" lengthAdjust="spacingAndGlyphs">2024-10-29</text>
<text x="93.1" y="360" font-size="11.11" text-anchor="end">0</text>
<text x="92.7" y="330" font-size="11.11" text-anchor="end" textLength="13.4" lengthAdjust="spacingAndGlyphs">20</text>
<text x="91.45" y="299" font-size="11.11" text-anchor="end" textLength="13.4" lengthAdjust="spacingAndGlyphs">40</text>
<text x="92.2" y="269" font-size="11.11" text-anchor="end" textLength="13.4" lengthAdjust="spacingAndGlyphs">60</text>
<text x="92.4" y="239" font-size="11.11" text-anchor="end" textLength="13.4" lengthAdjust="spacingAndGlyphs">80</text>
<text x="410" y="225.7" font-size="13.33" text-anchor="middle">Number of failed test cases</text>
<text transform="translate(71.3 294.4) rotate(-90)" font-size="11.11" text-anchor="middle">Failed test cases</text>
<rect x="539.5" y="237.5" width="176" height="16.8" rx="1.85" fill="#fff" fill-opacity="0.8" stroke="#ccc" stroke-width="1.39"/>
<path d="M541 245h21" stroke="#8080c0" stroke-width="1.85" fill="none"/>
<use href="#mb" x="552.5" y="245.5" stroke="#8080c0" stroke-width="1.1"/>
<text x="569.1" y="248" font-size="9.26" textLength="54.2" lengthAdjust="spacingAndGlyphs">Unexpected</text>
<path d="M641.3 245h21" stroke="#808040" stroke-width="1.85" fill="none"/>
<use href="#mb" x="652.8" y="245.5" stroke="#808040" stroke-width="1.1"/>
<text x="669.4" y="248" font-size="9.26" textLength="41.7" lengthAdjust="spacingAndGlyphs">Expected</text>
</svg></body></html>
